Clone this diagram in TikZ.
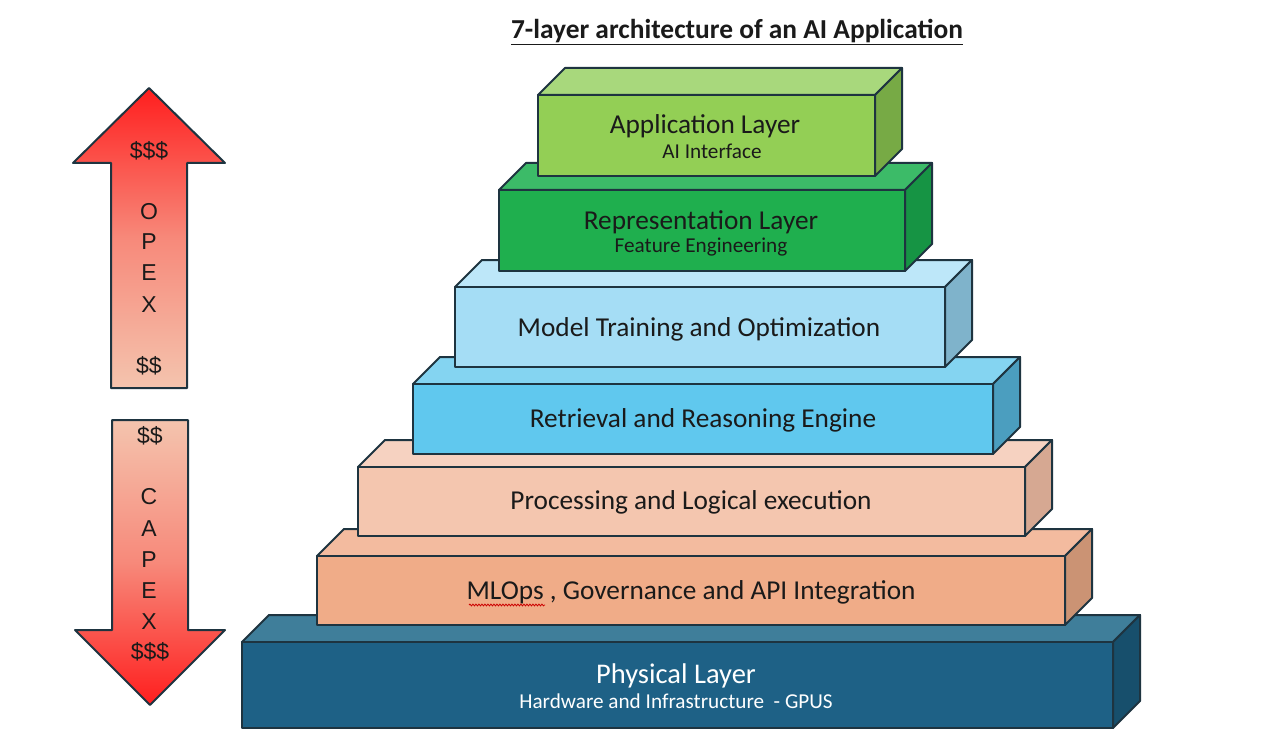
\documentclass[tikz,border=0pt]{standalone}
\usepackage{fontspec}
\setmainfont{Carlito}
\newfontfamily\arialfont{Liberation Sans}
\usetikzlibrary{decorations.pathmorphing}
\definecolor{edge}{HTML}{1E3440}
\definecolor{txt}{HTML}{1A1A1A}
\definecolor{appF}{HTML}{93CF55}\definecolor{appT}{HTML}{A8D87C}\definecolor{appS}{HTML}{77AA45}
\definecolor{repF}{HTML}{1FAF4E}\definecolor{repT}{HTML}{3CBB68}\definecolor{repS}{HTML}{169444}
\definecolor{modF}{HTML}{A5DDF5}\definecolor{modT}{HTML}{BDE7F9}\definecolor{modS}{HTML}{7FB3CB}
\definecolor{retF}{HTML}{60C8EE}\definecolor{retT}{HTML}{84D4F1}\definecolor{retS}{HTML}{4B9EBF}
\definecolor{proF}{HTML}{F4C6AF}\definecolor{proT}{HTML}{F6D2C1}\definecolor{proS}{HTML}{D6A892}
\definecolor{mloF}{HTML}{F0AC88}\definecolor{mloT}{HTML}{F3BB9F}\definecolor{mloS}{HTML}{CB9374}
\definecolor{phyF}{HTML}{1E6186}\definecolor{phyT}{HTML}{3F7E9A}\definecolor{phyS}{HTML}{174F6C}
\definecolor{arrRed}{HTML}{FF1E1E}\definecolor{arrMid}{HTML}{F7897A}\definecolor{arrLight}{HTML}{F4C4AE}
% #1 x1, #2 ytop, #3 x2, #4 ybot, #5 front, #6 top, #7 side
\newcommand{\layerbox}[7]{%
  \path[boxline, fill=#6] (#1,#2) -- ({#1+27},{#2-27}) -- ({#3+27},{#2-27}) -- (#3,#2) -- cycle;
  \path[boxline, fill=#7] (#3,#2) -- ({#3+27},{#2-27}) -- ({#3+27},{#4-27}) -- (#3,#4) -- cycle;
  \path[boxline, fill=#5] (#1,#2) rectangle (#3,#4);
}
\tikzset{
  boxline/.style={draw=edge, line width=2pt, line join=round},
  maintext/.style={text=txt, font=\fontsize{27.3}{31}\selectfont, inner sep=0pt},
  subtext/.style={text=txt, font=\fontsize{21.2}{25}\selectfont, inner sep=0pt},
  arrtext/.style={text=txt, font=\arialfont\fontsize{23}{26}\selectfont, inner sep=0pt},
}
\begin{document}
\begin{tikzpicture}[x=1pt,y=-1pt]
\fill[white] (0,0) rectangle (1276,738);
\useasboundingbox (0,0) rectangle (1276,738);

% title
\node[text=txt, font=\bfseries\fontsize{27.4}{32}\selectfont, inner sep=0pt] (title) at (737,32) {\underline{7-layer architecture of an AI Application}};

% arrows
\path[boxline, top color=arrRed, bottom color=arrLight, middle color=arrMid]
  (149,88) -- (225,163) -- (187,163) -- (187,388) -- (111,388) -- (111,163) -- (73,163) -- cycle;
\path[boxline, top color=arrLight, bottom color=arrRed, middle color=arrMid]
  (112,420) -- (188,420) -- (188,630) -- (225,630) -- (150,705) -- (75,630) -- (112,630) -- cycle;

\node[arrtext] (o1) at (149,151) {\$\$\$};
\node[arrtext] (o2) at (149,212) {O};
\node[arrtext] (o3) at (149,242) {P};
\node[arrtext] (o4) at (149,273) {E};
\node[arrtext] (o5) at (149,305) {X};
\node[arrtext] (o6) at (149,366) {\$\$};
\node[arrtext] (c1) at (150,436) {\$\$};
\node[arrtext] (c2) at (149,497) {C};
\node[arrtext] (c3) at (149,529) {A};
\node[arrtext] (c4) at (149,560) {P};
\node[arrtext] (c5) at (149,591) {E};
\node[arrtext] (c6) at (149,622) {X};
\node[arrtext] (c7) at (150,652) {\$\$\$};

% layers, bottom to top
\layerbox{242}{642}{1113}{728}{phyF}{phyT}{phyS}
\layerbox{317}{556}{1065}{625}{mloF}{mloT}{mloS}
\layerbox{358}{467}{1025}{536}{proF}{proT}{proS}
\layerbox{413}{384}{993}{454}{retF}{retT}{retS}
\layerbox{455}{287}{945}{367}{modF}{modT}{modS}
\layerbox{499}{190}{905}{271}{repF}{repT}{repS}
\layerbox{538}{95}{875}{176}{appF}{appT}{appS}

\node[maintext] (app) at (705,126) {Application Layer};
\node[subtext] (appsub) at (712,151) {AI Interface};
\node[maintext] (rep) at (701,222) {Representation Layer};
\node[subtext] (repsub) at (701,247) {Feature Engineering};
\node[maintext] (mod) at (699,329) {Model Training and Optimization};
\node[maintext] (ret) at (703,420) {Retrieval and Reasoning Engine};
\node[maintext] (pro) at (691,502) {Processing and Logical execution};
\node[maintext] (mlo) at (691,592) {MLOps , Governance and API Integration};
\node[maintext, text=white, font=\fontsize{28.5}{32}\selectfont] (phy) at (676,676) {Physical Layer};
\node[subtext, text=white] (physub) at (676,701) {Hardware and Infrastructure\ \ - GPUS};
\coordinate (sqa) at (469,605);
\coordinate (sqb) at (545,605);
\draw[red!80!black, line width=0.8pt, decorate, decoration={snake, segment length=3pt, amplitude=0.9pt}] (sqa) -- (sqb);
\end{tikzpicture}
\end{document}
